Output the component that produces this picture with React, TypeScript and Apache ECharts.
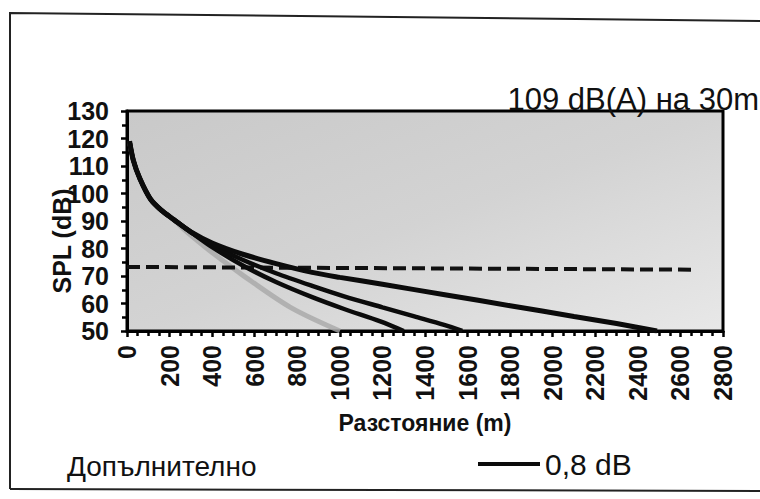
import React, { useEffect, useRef } from "react";
import * as echarts from "echarts";

// Common steep start of all curves (distance in m, SPL in dB)
const commonX = [12, 30, 60, 110, 160, 220, 300];
const commonY = [119, 112, 105.5, 98, 94, 90.5, 86];

// Curve "0,8 dB" (upper)
const curve1X = [400, 540, 700, 870, 1000, 1200, 1500, 1800, 2100, 2300, 2490];
const curve1Y = [82, 78, 74.5, 71.3, 69.5, 67, 63.1, 59.2, 55.3, 52.7, 50];

// Middle curve
const curve2X = [400, 540, 700, 870, 1020, 1200, 1350, 1490, 1575];
const curve2Y = [81.3, 76, 71, 66.4, 62.6, 58.6, 55.3, 52.2, 50];

// Lower curve
const curve3X = [400, 540, 700, 870, 1020, 1190, 1300];
const curve3Y = [80.5, 74, 67.8, 62.3, 58, 53.5, 50];

// Faint (grey) curve
const faintX = [260, 320, 400, 540, 770, 1000];
const faintY = [87.5, 83.5, 78.5, 70.5, 58.5, 50];

// Dashed limit line
const limitX = [0, 2660];
const limitY = [73.3, 72.3];

const seriesNames = ["0,8 dB", "Крива 2", "Крива 3", "Крива 4", "Граница"];
const titleText = "109 dB(A) на 30m";
const noteText = "Допълнително";
const xAxisName = "Разстояние (m)";
const yAxisName = "SPL (dB)";

const pairs = (xs: number[], ys: number[]) => xs.map((x, i) => [x, ys[i]]);

const FONT = "'Liberation Sans', Arial, sans-serif";

export default function App() {
  const ref = useRef<HTMLDivElement>(null);
  useEffect(() => {
    if (!ref.current) return;
    const chart = echarts.init(ref.current, undefined, { renderer: "svg" });
    const lineBase = {
      type: "line" as const,
      showSymbol: false,
      symbol: "none",
      smooth: 0.3,
      silent: true,
    };
    const tick = { show: true, inside: false, length: 6, lineStyle: { color: "#000", width: 2.5 } };
    chart.setOption({
      animation: false,
      backgroundColor: "#ffffff",
      title: [
        {
          text: titleText,
          right: 1,
          top: 84,
          padding: 0,
          textStyle: { fontFamily: FONT, fontSize: 31, fontWeight: "normal", color: "#111" },
        },
        {
          text: noteText,
          left: 67,
          top: 452,
          padding: 0,
          textStyle: { fontFamily: FONT, fontSize: 28, fontWeight: "normal", color: "#111" },
        },
      ],
      legend: {
        data: [seriesNames[0]],
        left: 478,
        top: 449,
        padding: 0,
        icon: "rect",
        itemWidth: 62,
        itemHeight: 4,
        itemGap: 6,
        textStyle: { fontFamily: FONT, fontSize: 30, color: "#111" },
      },
      grid: {
        left: 127,
        right: 37,
        top: 111,
        bottom: 168,
        show: true,
        borderColor: "#000",
        borderWidth: 3,
        backgroundColor: new echarts.graphic.LinearGradient(0, 0, 1, 1, [
          { offset: 0, color: "#c9c9c9" },
          { offset: 0.5, color: "#d3d3d3" },
          { offset: 1, color: "#e8e8e8" },
        ]),
      },
      xAxis: {
        type: "value",
        min: 0,
        max: 2800,
        interval: 200,
        name: xAxisName,
        nameLocation: "middle",
        nameGap: 80,
        nameMoveOverlap: false,
        nameTextStyle: { fontFamily: FONT, fontSize: 23, fontWeight: "bold", color: "#111" },
        axisLine: { show: true, onZero: false, lineStyle: { color: "#000", width: 3 } },
        axisTick: tick,
        minorTick: { show: true, splitNumber: 4, length: 5, lineStyle: { color: "#000", width: 2.5 } },
        splitLine: { show: false },
        axisLabel: {
          rotate: 90,
          margin: 14,
          fontFamily: FONT,
          fontSize: 25,
          fontWeight: "bold",
          color: "#111",
          formatter: (v: number) => String(v),
        },
      },
      yAxis: {
        type: "value",
        min: 50,
        max: 130,
        interval: 10,
        name: yAxisName,
        nameLocation: "middle",
        nameRotate: 90,
        nameGap: 53,
        nameMoveOverlap: false,
        nameTextStyle: {
          fontFamily: FONT,
          fontSize: 25,
          fontWeight: "bold",
          color: "#111",
          padding: [0, 40, 0, 0],
        },
        axisLine: { show: true, onZero: false, lineStyle: { color: "#000", width: 3 } },
        axisTick: tick,
        minorTick: { show: true, splitNumber: 2, length: 5, lineStyle: { color: "#000", width: 2.5 } },
        splitLine: { show: false },
        axisLabel: {
          margin: 18,
          fontFamily: FONT,
          fontSize: 25,
          fontWeight: "bold",
          color: "#111",
        },
      },
      series: [
        {
          ...lineBase,
          name: seriesNames[3],
          z: 1,
          lineStyle: { color: "#a8a8a8", width: 5, opacity: 0.8 },
          data: pairs(commonX.slice(0, 6), commonY.slice(0, 6)).concat(pairs(faintX, faintY)),
        },
        {
          ...lineBase,
          name: seriesNames[4],
          smooth: false,
          z: 2,
          lineStyle: { color: "#111", width: 4, type: [13, 6] },
          data: pairs(limitX, limitY),
        },
        {
          ...lineBase,
          name: seriesNames[2],
          z: 3,
          lineStyle: { color: "#0b0b0b", width: 4.5 },
          data: pairs(commonX, commonY).concat(pairs(curve3X, curve3Y)),
        },
        {
          ...lineBase,
          name: seriesNames[1],
          z: 3,
          lineStyle: { color: "#0b0b0b", width: 4.5 },
          data: pairs(commonX, commonY).concat(pairs(curve2X, curve2Y)),
        },
        {
          ...lineBase,
          name: seriesNames[0],
          z: 4,
          color: "#0b0b0b",
          lineStyle: { color: "#0b0b0b", width: 5 },
          data: pairs(commonX, commonY).concat(pairs(curve1X, curve1Y)),
        },
      ],
      graphic: [
        {
          type: "polyline",
          silent: true,
          shape: { points: [[10, 489], [10, 13], [762, 21]] },
          style: { stroke: "#222", lineWidth: 2, fill: null },
        },
        {
          type: "line",
          silent: true,
          shape: { x1: 10, y1: 489, x2: 762, y2: 491 },
          style: { stroke: "#222", lineWidth: 2 },
        },
      ],
    });
    return () => chart.dispose();
  }, []);
  return (
    <div
      ref={ref}
      style={{ position: "absolute", left: 0, top: 0, width: 760, height: 499 }}
    />
  );
}
